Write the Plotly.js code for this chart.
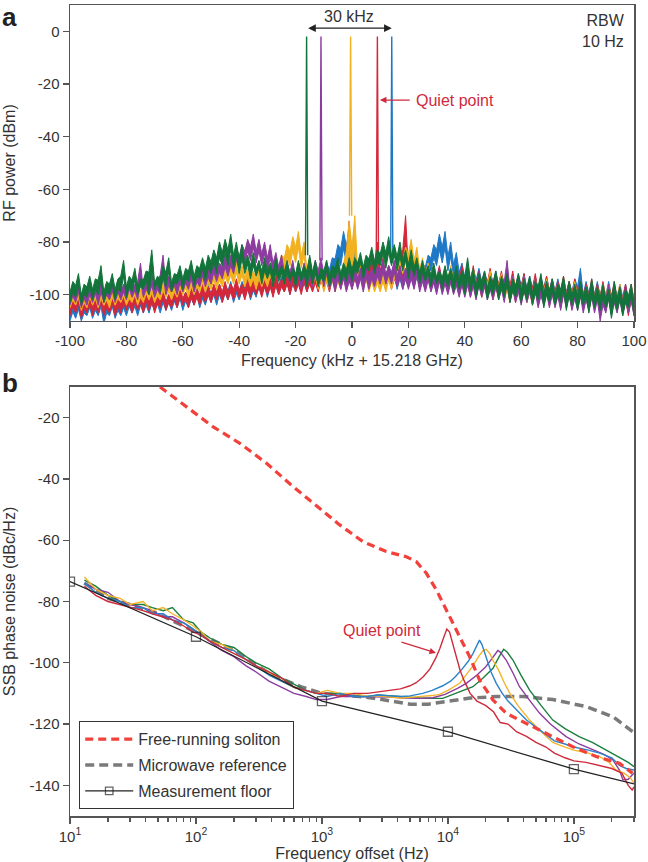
<!DOCTYPE html>
<html>
<head>
<meta charset="utf-8">
<script src="https://cdn.plot.ly/plotly-3.0.1.min.js"></script>
<style>
  html, body { margin: 0; padding: 0; background: #fff; }
  #chart { width: 648px; height: 862px; }
</style>
</head>
<body>
<div id="chart"></div>
<script>
// ---------- panel a: RF spectra (dBm), min / max of each 2 kHz bin ----------
const binStart = -100, binStep = 2;

const greenHi = [-95,-92,-96,-93,-94,-89,-95,-92,-94,-87, -93,-90,-94,-91,-83,-93,-89,-86,-92,-89,
                 -90,-87,-89,-86,-85,-83,-80,-79,-77,-80, -81,-85,-84,-87,-86,-88,-86,-89,-87,-90,
                 -87,-89,-85,-87,-90,-87,-89,-86,-88,-86, -86,-84,-85,-82,-83,-80,-78,-81,-80,-83,
                 -83,-86,-87,-89,-88,-91,-89,-90,-89,-91, -86,-90,-92,-91,-93,-91,-93,-92,-94,-92,
                 -94,-93,-95,-92,-95,-94,-96,-93,-95,-96, -95,-97,-94,-97,-96,-98,-95,-97,-98,-96,-98];
const greenLo = [-103,-101,-104,-101,-102,-100,-103,-100,-102,-99, -101,-99,-100,-98,-100,-98,-99,-97,-99,-96,
                 -98,-95,-97,-94,-95,-92,-92,-89,-89,-90, -92,-92,-94,-93,-96,-94,-97,-95,-96,-95,
                 -97,-95,-97,-96,-97,-95,-97,-94,-96,-95, -95,-92,-94,-91,-92,-89,-90,-89,-91,-91,
                 -94,-93,-96,-95,-97,-96,-98,-97,-99,-98, -100,-99,-101,-99,-102,-100,-102,-101,-103,-101,
                 -103,-102,-104,-102,-105,-103,-104,-103,-106,-104, -106,-104,-107,-105,-106,-105,-109,-106,-108,-105,-108];

const purpleHi = [-97,-95,-98,-96,-96,-94,-97,-95,-95,-96, -94,-96,-88,-95,-93,-95,-85,-93,-94,-91,
                  -92,-90,-91,-89,-90,-87,-88,-85,-85,-82, -81,-79,-77,-79,-80,-81,-84,-85,-88,-87,
                  -90,-88,-89,-87,-86,-87,-90,-89,-90,-91, -89,-90,-88,-90,-89,-87,-89,-87,-89,-90,
                  -90,-88,-91,-90,-92,-90,-92,-91,-93,-92, -92,-93,-91,-93,-94,-92,-94,-87,-93,-95,
                  -93,-95,-94,-96,-95,-95,-96,-94,-96,-97, -95,-97,-96,-97,-98,-96,-98,-97,-97,-98,-97];
const purpleLo = [-104,-103,-105,-104,-103,-104,-103,-102,-103,-102, -102,-101,-102,-101,-100,-101,-100,-100,-99,-100,
                  -99,-98,-99,-97,-97,-96,-95,-94,-93,-92, -90,-88,-87,-88,-89,-91,-92,-94,-95,-96,
                  -97,-98,-97,-97,-96,-97,-98,-99,-98,-99, -98,-98,-99,-98,-97,-96,-96,-96,-97,-98,
                  -98,-98,-99,-99,-99,-100,-100,-100,-100,-101, -101,-101,-102,-101,-102,-102,-102,-103,-103,-103,
                  -104,-103,-104,-105,-104,-105,-105,-106,-105,-106, -106,-107,-106,-107,-110,-107,-108,-107,-108,-107,-108];

const yellowHi = [-99,-98,-100,-97,-99,-98,-100,-97,-99,-98, -99,-97,-98,-96,-97,-98,-95,-97,-96,-94,
                  -95,-93,-94,-92,-93,-91,-91,-89,-89,-87, -89,-90,-91,-90,-91,-89,-88,-85,-81,-78,
                  -76,-80,-86,-89,-90,-91,-90,-91,-88,-72, -70,-86,-90,-91,-92,-91,-90,-89,-86,-82,
                  -79,-82,-86,-88,-90,-91,-90,-89,-91,-92, -91,-90,-92,-93,-91,-93,-92,-94,-93,-94,
                  -93,-95,-94,-95,-94,-95,-96,-94,-96,-95, -96,-97,-95,-97,-96,-96,-97,-96,-98,-97,-97];
const yellowLo = [-105,-104,-106,-105,-104,-105,-104,-105,-104,-103, -104,-103,-104,-103,-102,-103,-102,-101,-102,-101,
                  -100,-101,-100,-99,-99,-98,-98,-97,-96,-96, -96,-97,-97,-98,-97,-97,-96,-94,-91,-89,
                  -88,-90,-95,-97,-98,-99,-98,-99,-98,-95, -94,-96,-98,-99,-99,-99,-99,-98,-96,-92,
                  -90,-92,-95,-97,-98,-98,-99,-99,-99,-100, -100,-101,-100,-101,-101,-102,-101,-102,-103,-102,
                  -103,-103,-104,-103,-104,-104,-104,-105,-104,-105, -105,-105,-106,-105,-106,-106,-107,-106,-107,-106,-107];

const redHi = [-101,-100,-102,-100,-101,-99,-102,-100,-101,-99, -101,-99,-100,-98,-99,-100,-98,-100,-98,-97,
               -99,-97,-98,-96,-97,-96,-96,-95,-96,-94, -96,-94,-94,-95,-93,-94,-92,-94,-93,-91,
               -93,-91,-93,-92,-90,-92,-90,-90,-89,-72, -90,-88,-88,-84,-80,-86,-89,-90,-88,-70,
               -86,-88,-90,-89,-91,-89,-91,-90,-90,-89, -91,-89,-91,-92,-90,-92,-91,-93,-91,-93,
               -92,-94,-92,-94,-93,-94,-95,-93,-95,-94, -95,-96,-94,-96,-95,-96,-95,-97,-96,-96,-97];
const redLo = [-108,-107,-109,-107,-108,-107,-108,-107,-108,-107, -106,-107,-106,-107,-106,-107,-105,-106,-105,-105,
               -104,-105,-104,-104,-103,-103,-102,-103,-102,-102, -101,-102,-101,-100,-101,-100,-101,-100,-99,-100,
               -99,-100,-99,-99,-99,-98,-99,-98,-98,-97, -98,-97,-97,-96,-96,-96,-97,-98,-97,-96,
               -96,-97,-97,-98,-98,-98,-99,-99,-99,-100, -100,-101,-100,-101,-101,-102,-101,-102,-102,-103,
               -102,-103,-103,-104,-103,-104,-104,-105,-104,-105, -105,-105,-106,-105,-106,-106,-107,-106,-107,-108,-107];

const blueHi = [-103,-102,-104,-102,-103,-101,-103,-101,-103,-102, -101,-102,-100,-101,-100,-101,-99,-100,-99,-98,
                -99,-98,-97,-98,-96,-97,-96,-96,-95,-96, -95,-94,-95,-93,-94,-93,-93,-93,-92,-92,
                -92,-91,-91,-90,-90,-88,-86,-81,-76,-75, -81,-87,-90,-91,-90,-90,-89,-88,-90,-90,
                -90,-89,-88,-85,-81,-77,-76,-80,-84,-88, -90,-90,-90,-91,-91,-91,-92,-91,-93,-92,
                -92,-93,-93,-93,-93,-94,-94,-94,-95,-94, -90,-95,-95,-95,-96,-95,-96,-96,-96,-97,-97];
const blueLo = [-110,-109,-110,-108,-109,-108,-111,-108,-109,-108, -108,-107,-108,-107,-107,-106,-107,-106,-106,-105,
                -106,-105,-104,-105,-104,-103,-104,-103,-102,-103, -102,-101,-102,-101,-100,-101,-100,-100,-99,-100,
                -99,-99,-99,-98,-98,-97,-95,-92,-89,-88, -91,-95,-97,-98,-98,-98,-97,-97,-98,-98,
                -97,-97,-96,-94,-91,-89,-88,-91,-93,-95, -97,-98,-99,-99,-100,-100,-101,-100,-101,-102,
                -101,-102,-102,-103,-102,-103,-103,-104,-103,-104, -104,-105,-104,-105,-105,-106,-105,-106,-106,-107,-106];

// carriers (kHz offset, peak dBm)
const carrierName = ["blue", "red", "yellow", "purple", "green"];
const carrierFreq = [14.1, 9.0, -0.5, -11.0, -16.1];
const carrierPeak = [-2, -2, -2, -2, -2];

// ---------- panel b: SSB phase noise (dBc/Hz) ----------
const lowHz = [13,16,20,25,30,38,45,55,65,80,95,110,130,160,200,250,300,380,480,600,750,900,1100,1400,1800,2300];
const yellowLow = [-72,-76,-78,-79,-81,-80,-83,-82,-84,-86,-88,-90,-93,-94,-96,-99,-101,-103,-106,-108,-109,-110,-109,-110,-110,-111];
const greenLow  = [-73,-75,-78,-80,-81,-81,-82,-83,-82,-86,-87,-90,-92,-94,-95,-98,-100,-102,-105,-107,-109,-110,-110,-110,-111,-111];
const redLow    = [-75,-78,-80,-81,-82,-83,-84,-85,-86,-88,-90,-91,-93,-95,-97,-99,-101,-103,-105,-108,-109,-110,-110,-111,-110,-110];
const blueLow   = [-74,-77,-79,-80,-82,-82,-84,-84,-86,-87,-89,-91,-93,-95,-96,-99,-101,-104,-106,-108,-109,-110,-111,-110,-111,-111];
const purpleLow = [-74,-76,-77,-80,-81,-82,-83,-85,-85,-87,-89,-91,-93,-96,-98,-101,-103,-106,-108,-110,-111,-112,-112,-111,-111,-111];

const redHighHz = [2800,3500,4200,5000,5600,6400,7200,8000,8600,9300,9800,10300,10800,11600,12500,13500,15000,17000,20000,23000,26000,30000,35000,42000,50000,60000,70000,85000,100000,125000,160000,200000,240000,270000,290000,300000];
const redHigh   = [-109.5,-109,-108.5,-107.5,-106.5,-104.5,-102,-98.5,-95.5,-91.5,-89,-90,-93,-98,-102.5,-106,-110,-112.5,-114,-116,-119.5,-120,-122.5,-124,-126,-127.5,-129.5,-131,-132,-132.5,-133.5,-134.5,-136,-140,-141.5,-140.5];

const blueHighHz = [2800,3500,4200,5000,6300,7500,9100,10500,11500,13000,14500,15800,17000,17800,18600,20000,22000,24200,27000,30000,36000,42000,50000,60000,70000,85000,100000,130000,160000,200000,230000,260000,300000];
const blueHigh   = [-110.5,-110.8,-111,-110.8,-110,-109,-107.5,-106,-104.5,-102,-99.5,-97,-94,-92.6,-94,-98,-103,-106.7,-110,-112.5,-116,-118.7,-121,-123.5,-125.5,-126.5,-127.5,-128.5,-129.5,-131,-133.5,-134.5,-135];

const yellowHighHz = [2800,3500,4200,5000,6300,7500,8600,10000,12400,14000,15800,17500,19000,20100,21500,23000,25000,28000,31000,36000,44500,55000,68000,85000,100000,130000,160000,190000,215000,250000,280000,300000];
const yellowHigh   = [-110.8,-111.2,-111.5,-111.3,-111,-110.7,-110.3,-109,-106.7,-104,-101,-98,-96,-95.6,-97,-99.5,-102,-106.5,-110,-114,-118.7,-122.5,-126,-127.5,-128.5,-129.5,-130.6,-132.5,-135,-136,-137.5,-139.3];

const purpleHighHz = [2800,3500,4500,6000,7600,9500,12000,14000,17000,20000,22500,24900,26000,29000,33000,37000,45000,53500,65000,86700,110000,141000,175000,204000,230000,245000,270000,300000];
const purpleHigh   = [-111,-111.2,-111.5,-111.6,-111.4,-110.3,-108.3,-106.7,-104,-101.3,-98.5,-96,-96.5,-99.1,-103.5,-107.8,-112.5,-116.5,-120,-124.1,-126.5,-128.4,-130,-131.7,-135,-138.2,-138,-136];

const greenHighHz = [2800,3500,4500,6000,7500,9100,11500,13500,15800,19000,22800,25500,27700,29500,32800,38000,44500,55000,68000,85000,110000,140000,180000,230000,270000,300000];
const greenHigh   = [-110.5,-110.8,-111.2,-111.5,-111.6,-111.6,-110,-109,-107.8,-105,-101.8,-98,-95.6,-96.5,-99.1,-104,-108.9,-114,-118.7,-121.5,-124.1,-126,-128.4,-131,-132.5,-133.9];

const solitonHz = [51.8,84.1,137,223,363,590,962,1384,2118,3243,4677,5610,6745,8091,10960,14860,17820,22750,29040,41780,68080,97950,150000,229600,291700];
const soliton   = [-10,-16.4,-23,-28.4,-34.9,-42.5,-49.5,-55,-60.5,-63.7,-65.4,-67,-70.8,-76.2,-87.1,-98,-105.6,-112.1,-116.5,-119.7,-124.1,-127.4,-130.6,-132.8,-136];

const referenceHz = [13,20,30,50,100,200,400,700,1000,2000,3000,5000,7000,10000,15000,25000,40000,68000,125000,204000,293000];
const reference   = [-74,-79,-81,-84,-90,-96,-104,-108,-110,-111,-112,-113.5,-113.5,-112.5,-111.5,-111,-111,-112,-114.3,-117.6,-122.5];

const floorHz = [10,100,1000,10000,100000,300000];
const floorNoise = [-73.5,-91.5,-112.5,-122.5,-134.7,-139.5];

// ---------- colours ----------
const specColor = { green: "#12743a", purple: "#8c3b9f", yellow: "#f2b11f", red: "#d5273a", blue: "#1f78c6" };
const pnColor   = { green: "#1a7f3f", purple: "#8b3d9f", yellow: "#f4b42a", red: "#cf2a3c", blue: "#2a82cb" };

const spectra = {
    blue:   [blueLo, blueHi],
    red:    [redLo, redHi],
    yellow: [yellowLo, yellowHi],
    purple: [purpleLo, purpleHi],
    green:  [greenLo, greenHi]
};

// noise band with teeth: each bin max sticks up above, each bin min hangs below
function bandXY(lo, hi) {
    const x = [], y = [];
    hi.forEach((v, i) => {
        const f = binStart + i * binStep;
        x.push(f); y.push((lo[i] + v) / 2);
        x.push(f + binStep / 2); y.push(v);
    });
    for (let i = lo.length - 1; i >= 0; i--) {
        const f = binStart + i * binStep;
        x.push(f + binStep / 2); y.push((lo[i] + hi[i]) / 2);
        x.push(f); y.push(lo[i]);
    }
    return { x, y };
}

const traces = [];

carrierName.forEach((name, i) => {
    const [lo, hi] = spectra[name];
    const b = bandXY(lo, hi);
    traces.push({
        x: b.x, y: b.y, xaxis: "x", yaxis: "y",
        type: "scatter", mode: "lines", fill: "toself",
        fillcolor: specColor[name], line: { color: specColor[name], width: 1 },
        showlegend: false, hoverinfo: "skip"
    });
    const k = Math.round((carrierFreq[i] - binStart) / binStep);
    traces.push({
        x: [carrierFreq[i] - 0.4, carrierFreq[i], carrierFreq[i] + 0.4],
        y: [hi[k], carrierPeak[i], hi[k]], xaxis: "x", yaxis: "y",
        type: "scatter", mode: "lines",
        line: { color: specColor[name], width: 1.4 },
        showlegend: false, hoverinfo: "skip"
    });
});

// panel b
traces.push({
    x: referenceHz, y: reference, xaxis: "x2", yaxis: "y2",
    type: "scatter", mode: "lines", name: "Microwave reference",
    line: { color: "#7a7a7a", width: 3.5, dash: "9px,5px" },
    legendrank: 2, legendgroup: "g2"
});

const pnSeries = [
    ["green", greenLow, greenHighHz, greenHigh],
    ["purple", purpleLow, purpleHighHz, purpleHigh],
    ["yellow", yellowLow, yellowHighHz, yellowHigh],
    ["blue", blueLow, blueHighHz, blueHigh],
    ["red", redLow, redHighHz, redHigh]
];
pnSeries.forEach(([name, low, hz, high]) => {
    traces.push({
        x: lowHz.concat(hz), y: low.concat(high), xaxis: "x2", yaxis: "y2",
        type: "scatter", mode: "lines",
        line: { color: pnColor[name], width: 1.4 },
        showlegend: false
    });
});

traces.push({
    x: floorHz, y: floorNoise, xaxis: "x2", yaxis: "y2",
    type: "scatter", mode: "lines+markers", name: "Measurement floor",
    line: { color: "#222", width: 1.3 },
    marker: { symbol: "square-open", size: [9, 9, 9, 9, 9, 0], color: "#222", line: { width: 1.3 } },
    legendrank: 3, legendgroup: "g3"
});

traces.push({
    x: solitonHz, y: soliton, xaxis: "x2", yaxis: "y2",
    type: "scatter", mode: "lines", name: "Free-running soliton",
    line: { color: "#f2403a", width: 3.2, dash: "8px,5px" },
    legendrank: 1, legendgroup: "g1"
});

// ---------- layout ----------
const axisLine = "#555";
const textColor = "#333";
const fontFamily = "Liberation Sans, Arial, sans-serif";

const aTicksX = [-100, -80, -60, -40, -20, 0, 20, 40, 60, 80, 100];
const aTicksY = [0, -20, -40, -60, -80, -100];
const bTicksY = [-20, -40, -60, -80, -100, -120, -140];
const bTicksX = [10, 100, 1000, 10000, 100000];
const bTickText = ["10<sup>1</sup>", "10<sup>2</sup>", "10<sup>3</sup>", "10<sup>4</sup>", "10<sup>5</sup>"];

const minorX = [];
for (let d = 10; d <= 100000; d *= 10) {
    for (let k = 2; k <= 9; k++) if (k * d <= 300000) minorX.push(k * d);
}

const common = {
    showline: true, mirror: true, linecolor: axisLine, linewidth: 1.5,
    ticks: "outside", ticklen: 6, tickwidth: 1.3, tickcolor: axisLine,
    showgrid: false, zeroline: false,
    tickfont: { size: 15, color: textColor }
};

const layout = {
    width: 648, height: 862,
    margin: { l: 70, r: 14, t: 5, b: 46 },
    paper_bgcolor: "#fff", plot_bgcolor: "#fff",
    font: { family: fontFamily, color: textColor, size: 15 },
    showlegend: true,
    legend: {
        x: 0.016, y: 0.117, xanchor: "left", yanchor: "top",
        bgcolor: "#fff", bordercolor: "#333", borderwidth: 1.2,
        font: { size: 16, color: textColor },
        traceorder: "grouped", tracegroupgap: 2, itemwidth: 48
    },
    xaxis: Object.assign({}, common, {
        domain: [0, 1], anchor: "y", range: [-100, 100],
        tickmode: "array", tickvals: aTicksX, ticktext: aTicksX.map(String),
        title: { text: "Frequency (kHz + 15.218 GHz)", font: { size: 16 }, standoff: 6 }
    }),
    yaxis: Object.assign({}, common, {
        domain: [0.6104, 1], anchor: "x", range: [-110, 10],
        tickmode: "array", tickvals: aTicksY, ticktext: aTicksY.map(String),
        title: { text: "RF power (dBm)", font: { size: 16 }, standoff: 10 }
    }),
    xaxis2: Object.assign({}, common, {
        domain: [0, 1], anchor: "y2", type: "log", range: [1, Math.log10(300000)],
        tickmode: "array", tickvals: bTicksX, ticktext: bTickText,
        minor: { tickmode: "array", tickvals: minorX, ticks: "outside", ticklen: 4, tickcolor: axisLine },
        title: { text: "Frequency offset (Hz)", font: { size: 16 }, standoff: 6 }
    }),
    yaxis2: Object.assign({}, common, {
        domain: [0, 0.529], anchor: "x2", range: [-150, -10],
        tickmode: "array", tickvals: bTicksY, ticktext: bTicksY.map(String),
        title: { text: "SSB phase noise (dBc/Hz)", font: { size: 16 }, standoff: 10 }
    }),
    annotations: [
        { xref: "paper", yref: "paper", x: -0.124, y: 1.006, xanchor: "left", yanchor: "top",
          text: "<b>a</b>", showarrow: false, font: { size: 26, color: "#222" } },
        { xref: "paper", yref: "paper", x: -0.124, y: 0.5344, xanchor: "left", yanchor: "middle",
          text: "<b>b</b>", showarrow: false, font: { size: 26, color: "#222" } },
        // 30 kHz span
        { xref: "x", yref: "y", x: 14.1, y: 1.2, axref: "x", ayref: "y", ax: -16.1, ay: 1.2,
          text: "", showarrow: true, arrowside: "end+start", arrowhead: 2, arrowsize: 1.1,
          arrowwidth: 1.4, arrowcolor: "#222" },
        { xref: "x", yref: "y", x: -1, y: 5.6, text: "30 kHz", showarrow: false,
          font: { size: 16, color: textColor } },
        { xref: "x", yref: "y", x: 97.5, y: 8, xanchor: "right", yanchor: "top", align: "right",
          text: "RBW<br>10 Hz", showarrow: false, font: { size: 16, color: textColor } },
        // quiet point, panel a
        { xref: "x", yref: "y", x: 9.9, y: -26.1, axref: "x", ayref: "y", ax: 21, ay: -26.1,
          text: "", showarrow: true, arrowhead: 2, arrowsize: 1, arrowwidth: 1.3, arrowcolor: "#cf2a3c" },
        { xref: "x", yref: "y", x: 22, y: -26.1, xanchor: "left", text: "Quiet point", showarrow: false,
          font: { size: 16, color: "#cf2a3c" } },
        // quiet point, panel b
        { xref: "x2", yref: "y2", x: 3.474, y: -89.5, text: "Quiet point", showarrow: false,
          font: { size: 16, color: "#cf2a3c" } },
        { xref: "x2", yref: "y2", x: 3.905, y: -96.8, axref: "x2", ayref: "y2", ax: 3.62, ay: -93.1,
          text: "", showarrow: true, arrowhead: 2, arrowsize: 1, arrowwidth: 1.3, arrowcolor: "#cf2a3c" }
    ]
};

Plotly.newPlot("chart", traces, layout, { displayModeBar: false, staticPlot: true });
</script>
</body>
</html>
